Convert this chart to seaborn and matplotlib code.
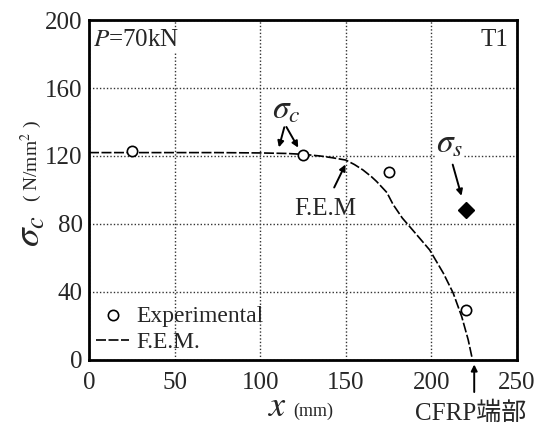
import matplotlib
matplotlib.use("Agg")
import matplotlib.pyplot as plt
import seaborn as sns
import pandas as pd

# F.E.M. curve (x in mm, stress in N/mm2)
fem_x = [0, 25, 50, 75, 100, 115, 125, 135, 142, 150, 155, 160, 165, 168, 174, 177.6, 183, 189, 199, 207, 212.7, 217.7, 221.5, 224]
fem_y = [122, 122, 122, 122, 121.8, 121.5, 121, 120, 119, 117.6, 115, 111.8, 107.8, 105, 98.5, 91.5, 83.5, 76.5, 64.7, 51, 39.4, 25.5, 11.8, 0]

# experimental sigma_c
exp_x = [25, 125, 175, 220]
exp_y = [123, 120.5, 110.5, 29.5]

# sigma_s
sig_s_x = [220]
sig_s_y = [88.5]

xticks = [0, 50, 100, 150, 200, 250]
yticks = [0, 40, 80, 120, 160, 200]

sns.set_style("white")
plt.rcParams['font.family'] = ['Liberation Serif', 'Noto Sans CJK JP']
plt.rcParams['mathtext.fontset'] = 'stix'

fig = plt.figure(figsize=(5.37, 4.24), dpi=100)
ax = fig.add_axes([0.1657, 0.151, 0.7971, 0.8018])

fem = pd.DataFrame({"x": fem_x, "y": fem_y})
exp = pd.DataFrame({"x": exp_x, "y": exp_y})

ax.grid(True, color="#333333", linestyle=(0, (1, 1.5)), linewidth=1.0)
ax.set_axisbelow(True)

sns.lineplot(data=fem, x="x", y="y", ax=ax, color="black", linewidth=1.2,
             label="F.E.M.", sort=False, zorder=3)
ax.lines[-1].set_linestyle((0, (6, 1.5)))
sns.scatterplot(data=exp, x="x", y="y", ax=ax, marker="o", s=55,
                facecolor="white", edgecolor="black", linewidth=1.2,
                label="Experimental", zorder=4)
ax.plot(sig_s_x, sig_s_y, marker="D", markersize=8.5, color="black",
        linestyle="none", zorder=4)

ax.set_xlim(0, 250)
ax.set_ylim(0, 200)
ax.set_xticks(xticks)
ax.set_yticks(yticks)
ax.tick_params(direction="inout", length=7, width=1.2, labelsize=18, pad=1)
ax.tick_params(axis="x", pad=5)
for s in ax.spines.values():
    s.set_linewidth(2.0)
    s.set_color("black")
ax.set_xlabel("")
ax.set_ylabel("")

# legend, experimental first
h, l = ax.get_legend_handles_labels()
order = [l.index("Experimental"), l.index("F.E.M.")]
ax.legend([h[i] for i in order], [l[i] for i in order], loc="lower left",
          frameon=False, fontsize=17, handlelength=1.4, handletextpad=0.3,
          labelspacing=0.2, borderaxespad=0.2, borderpad=0.1)

# corner labels
ax.text(2.5, 188, "$P$=70kN", fontsize=18, va="center", ha="left",
        bbox=dict(facecolor="white", edgecolor="none", pad=1))
ax.text(245, 188, "T1", fontsize=18, va="center", ha="right")

# sigma_c annotation
ax.text(115, 147, r"$\sigma_c$", fontsize=24, ha="center", va="center",
        bbox=dict(facecolor="white", edgecolor="none", pad=0))
arrow = dict(arrowstyle="-|>", color="black", lw=1.4, mutation_scale=9)
ax.annotate("", xy=(110.5, 123.5), xytext=(114.5, 138.5), arrowprops=arrow)
ax.annotate("", xy=(123, 123.5), xytext=(114.5, 138.5), arrowprops=arrow)

# F.E.M annotation
ax.annotate("", xy=(150.5, 116.5), xytext=(142.5, 100), arrowprops=arrow)
ax.text(138, 89, "F.E.M", fontsize=18, ha="center", va="center")

# sigma_s annotation
ax.text(210.5, 127, r"$\sigma_s$", fontsize=24, ha="center", va="center",
        bbox=dict(facecolor="white", edgecolor="none", pad=0))
ax.annotate("", xy=(218, 95), xytext=(212, 116.5), arrowprops=arrow)

# CFRP end marker below the axis
ax.annotate("", xy=(225, -1), xytext=(225, -20.5), arrowprops=arrow,
            annotation_clip=False)
ax.text(223, -31.5, "CFRP端部", fontsize=18, ha="center", va="center",
        clip_on=False)

# axis labels
fig.text(0.057, 0.455, r"$\sigma_c$", fontsize=27, rotation=90,
         ha="center", va="center")
fig.text(0.058, 0.62, r"( N/mm$^2$ )", fontsize=14, rotation=90,
         ha="center", va="center")
fig.text(0.516, 0.04, r"$x$", fontsize=26, ha="center", va="center")
fig.text(0.583, 0.03, "(mm)", fontsize=13, ha="center", va="center")

plt.savefig("out.png", dpi=100)
plt.close()
